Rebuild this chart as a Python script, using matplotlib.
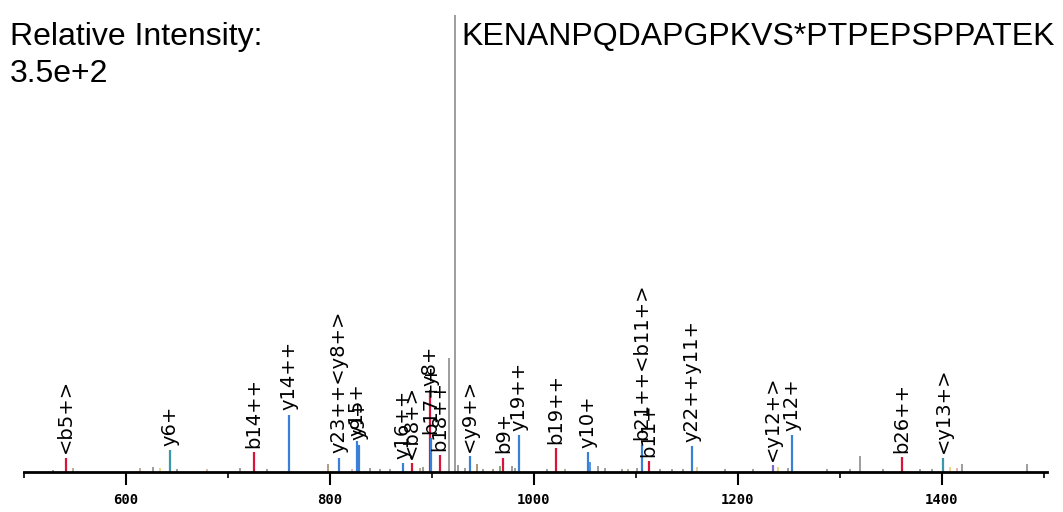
import numpy as np
import matplotlib
matplotlib.use('Agg')
import matplotlib.pyplot as plt
from matplotlib.ticker import MultipleLocator

# Peak list (m/z, intensity), max peak = 3.5e+2
RED = '#d8143c'
BLUE = '#3a80d8'
TEAL = '#3a98a8'
PURPLE = '#7a6cc4'
GRAY = '#8c8c8c'

# annotated fragment ions
ion_mz = [541, 643, 725.5, 760, 809, 826, 828.5, 871.5, 880, 898, 898.6, 908,
          937, 970, 985, 1021.5, 1053, 1106, 1113, 1155, 1234, 1253, 1361, 1401]
ion_int = [11, 17, 15, 44, 11, 24, 21, 7, 7, 63, 26, 13,
           12, 11, 28, 18, 15, 21, 8.5, 20, 5.5, 28, 11.5, 11]
ion_label = ['<b5+>', 'y6+', 'b14++', 'y14++', 'y23++<y8+>', 'y15+', 'y9+', 'y16++', '<b8+>',
             'y8+', 'b17++', 'b18++', '<y9+>', 'b9+', 'y19++', 'b19++', 'y10+',
             'b21++<b11+>', 'b11+', 'y22++y11+', '<y12+>', 'y12+', 'b26++', '<y13+>']
ion_color = [RED, TEAL, RED, BLUE, BLUE, BLUE, BLUE, BLUE, RED, RED, BLUE, RED,
             BLUE, RED, BLUE, RED, BLUE, BLUE, RED, BLUE, PURPLE, BLUE, RED, TEAL]

# unannotated peaks
other_mz = [922.5, 916.5, 1320, 798, 925.5, 944, 967, 978, 1063, 1420, 1483,
            528, 548, 614, 626, 633, 650, 679, 712, 738, 821.5, 839, 849, 859,
            888, 891, 932, 950, 960, 981, 1013, 1030, 1055, 1070, 1086, 1092,
            1101, 1123.5, 1135, 1146, 1160, 1187, 1215, 1239, 1249, 1287, 1310,
            1342, 1378, 1390, 1408, 1415]
other_int = [350, 87, 12, 6, 5.5, 6, 4.5, 4.5, 4.5, 6, 6,
             1.5, 3, 3, 3.5, 3, 2, 2, 3, 2, 2.5, 3, 2, 2.5,
             3, 3.5, 3, 2.5, 2, 3, 2.5, 2, 8, 3, 2, 2.5,
             3, 2, 2, 2.5, 3.5, 2, 2, 3.5, 3, 2, 2,
             2, 2, 2.5, 3.5, 3]
other_color = [GRAY, GRAY, GRAY, '#a08c6c', GRAY, '#a0845c', '#6aa06a', GRAY, GRAY, GRAY, GRAY,
               GRAY, '#b0a080', '#b0a080', GRAY, '#e8d070', GRAY, '#c8b098', GRAY, GRAY,
               '#e8a0b0', GRAY, GRAY, GRAY, '#b0a080', GRAY, GRAY, GRAY, '#a0845c', GRAY,
               GRAY, '#b0a080', BLUE, GRAY, GRAY, '#b0a080', GRAY, GRAY, GRAY, GRAY,
               '#e0c090', GRAY, GRAY, '#e8d070', GRAY, GRAY, GRAY, GRAY, GRAY, GRAY,
               '#e8d070', '#e8a0b0']

x_ticks = [600, 800, 1000, 1200, 1400]

fig = plt.figure(figsize=(10.63, 5.12), dpi=100)
ax = fig.add_axes([24 / 1063, 40 / 512, (1047 - 24) / 1063, (472 - 15) / 512])

ax.vlines(other_mz, 0, other_int, colors=other_color, linewidth=1.2)
ax.vlines(ion_mz, 0, ion_int, colors=ion_color, linewidth=1.6)

for mz, h, lab in zip(ion_mz, ion_int, ion_label):
    ax.annotate(lab, (mz, h), xytext=(0, 3), textcoords='offset points',
                rotation=90, ha='center', va='bottom', fontsize=14,
                family='DejaVu Sans', color='black')

ax.set_xlim(500, 1503)
ax.set_ylim(0, 350)
for s in ['left', 'right', 'top']:
    ax.spines[s].set_visible(False)
ax.spines['bottom'].set_linewidth(2)
ax.set_yticks([])
ax.set_xticks(x_ticks)
ax.xaxis.set_minor_locator(MultipleLocator(100))
ax.tick_params(axis='x', which='major', length=9, width=1.5, labelsize=10, pad=6)
ax.tick_params(axis='x', which='minor', length=4, width=1.2)
for t in ax.get_xticklabels():
    t.set_fontweight('bold')
    t.set_family('DejaVu Sans Mono')

fig.text(10 / 1063, 1 - 22 / 512, 'Relative Intensity:', ha='left', va='top',
         fontsize=23, family='Liberation Sans')
fig.text(10 / 1063, 1 - 59 / 512, '3.5e+2', ha='left', va='top',
         fontsize=23, family='Liberation Sans')
fig.text(461 / 1063, 1 - 22 / 512, 'KENANPQDAPGPKVS*PTPEPSPPATEK', ha='left', va='top',
         fontsize=23, family='Liberation Sans')

fig.savefig('out.png', dpi=100)
